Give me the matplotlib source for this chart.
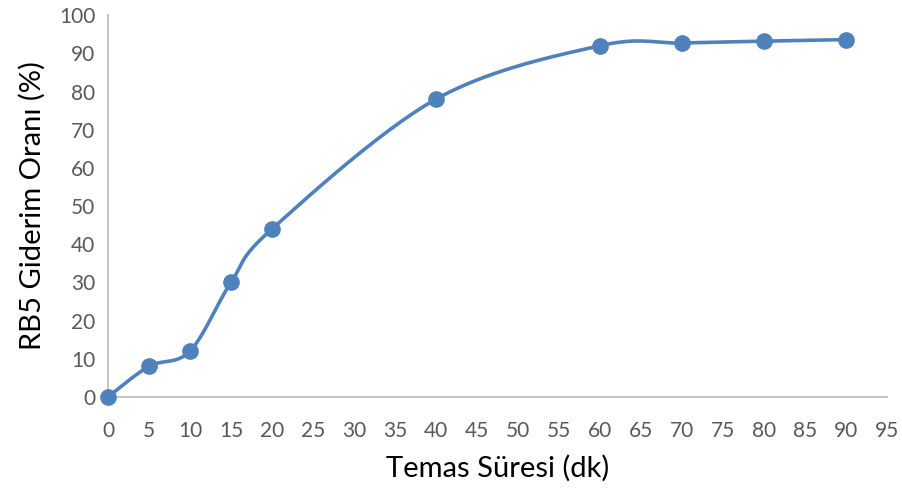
import matplotlib
matplotlib.use('Agg')
import matplotlib.pyplot as plt
import numpy as np

plt.rcParams['font.family'] = ['Lato', 'DejaVu Sans']

# contact time (min) vs RB5 removal (%)
sure = [0, 5, 10, 15, 20, 40, 60, 70, 80, 90]
giderim = [0, 8, 12, 30, 44, 78, 92, 92.7, 93.2, 93.6]
xticks = list(range(0, 100, 5))
yticks = list(range(0, 110, 10))


def smooth(ax, xs, ys, n=40):
    # Catmull-Rom style smoothing done in screen space so curve looks like Excel's
    pts = ax.transData.transform(np.column_stack([xs, ys]))
    out = [pts[0]]
    for i in range(len(pts) - 1):
        p0 = pts[i - 1] if i > 0 else pts[i]
        p1 = pts[i]
        p2 = pts[i + 1]
        p3 = pts[i + 2] if i + 2 < len(pts) else pts[i + 1]
        c1 = p1 + (p2 - p0) / 6.0
        c2 = p2 - (p3 - p1) / 6.0
        t = np.linspace(0, 1, n)[1:, None]
        seg = ((1 - t) ** 3) * p1 + 3 * ((1 - t) ** 2) * t * c1 + 3 * (1 - t) * t ** 2 * c2 + t ** 3 * p2
        out.extend(seg)
    out = np.array(out)
    return ax.transData.inverted().transform(out)


fig = plt.figure(figsize=(9.03, 4.9), dpi=100)
ax = fig.add_axes([0.1196, 0.190, 0.8626, 0.779])
ax.set_xlim(0, 95)
ax.set_ylim(0, 100)

curve = smooth(ax, sure, giderim)
ax.plot(curve[:, 0], curve[:, 1], color='#4F81BD', lw=2.6, zorder=3, clip_on=False)
ax.plot(sure, giderim, 'o', color='#4F81BD', ms=11, zorder=4, clip_on=False)

ax.set_xticks(xticks)
ax.set_yticks(yticks)
ax.tick_params(length=0, labelsize=15, colors='#595959')
ax.tick_params(axis='x', pad=17)
ax.tick_params(axis='y', pad=9)
for s in ['top', 'right']:
    ax.spines[s].set_visible(False)
for s in ['left', 'bottom']:
    ax.spines[s].set_color('#BFBFBF')
    ax.spines[s].set_linewidth(1.3)

ax.set_xlabel('Temas Süresi (dk)', fontsize=21, color='black', labelpad=10)
ax.set_ylabel('RB5 Giderim Oranı (%)', fontsize=21, color='black', labelpad=10)

fig.savefig('out.png', dpi=100)
